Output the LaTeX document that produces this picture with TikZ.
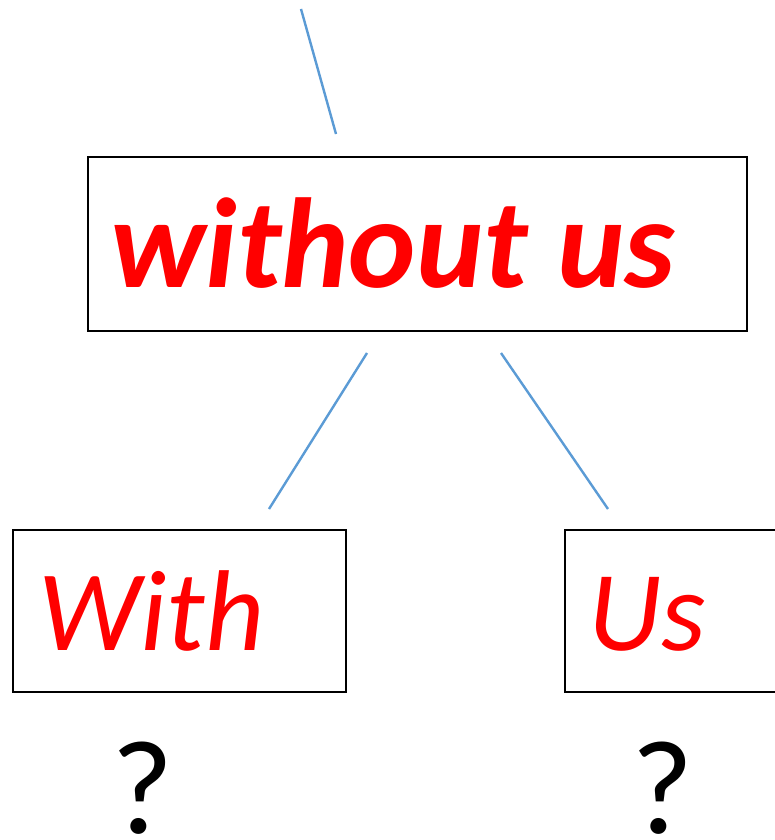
\documentclass[tikz,border=0pt]{standalone}
\usepackage{fontspec}
\setmainfont{Carlito}
\definecolor{linkblue}{RGB}{91,155,213}
\definecolor{wordred}{RGB}{255,0,0}
\tikzset{
  box/.style={draw=black, line width=2pt, inner sep=0pt},
  link/.style={draw=linkblue, line width=2.4pt},
  word/.style={text=wordred, inner sep=0pt, anchor=base west},
  quest/.style={text=black, inner sep=0pt, anchor=base, text depth=0pt},
}
\begin{document}
\begin{tikzpicture}[x=1pt,y=-1pt]
\useasboundingbox (0,0) rectangle (775,840);
\clip (0,0) rectangle (775,840);
\node[box, minimum width=659pt, minimum height=174pt] (top) at (417.5,244) {};
\node[box, minimum width=333pt, minimum height=162pt] (with) at (179.5,611) {};
\node[box, minimum width=240pt, minimum height=162pt] (us) at (685,611) {};
\node[word, font=\fontsize{128}{136}\selectfont\bfseries\itshape] (t1) at (110,287) {without us};
\node[word, font=\fontsize{115}{124}\selectfont\itshape] (t2) at (38,650) {With};
\node[word, font=\fontsize{114}{124}\selectfont\itshape] (t3) at (588,650) {Us};
\node[quest, font=\fontsize{134}{144}\selectfont] (q1) at (143,833) {?};
\node[quest, font=\fontsize{134}{144}\selectfont] (q2) at (663,833) {?};
\coordinate (a1) at (301,9);
\coordinate (a2) at (336,134);
\coordinate (b1) at (367,353);
\coordinate (b2) at (269,509);
\coordinate (c1) at (501,353);
\coordinate (c2) at (608,509);
\draw[link] (a1) -- (a2);
\draw[link] (b1) -- (b2);
\draw[link] (c1) -- (c2);
\end{tikzpicture}
\end{document}
